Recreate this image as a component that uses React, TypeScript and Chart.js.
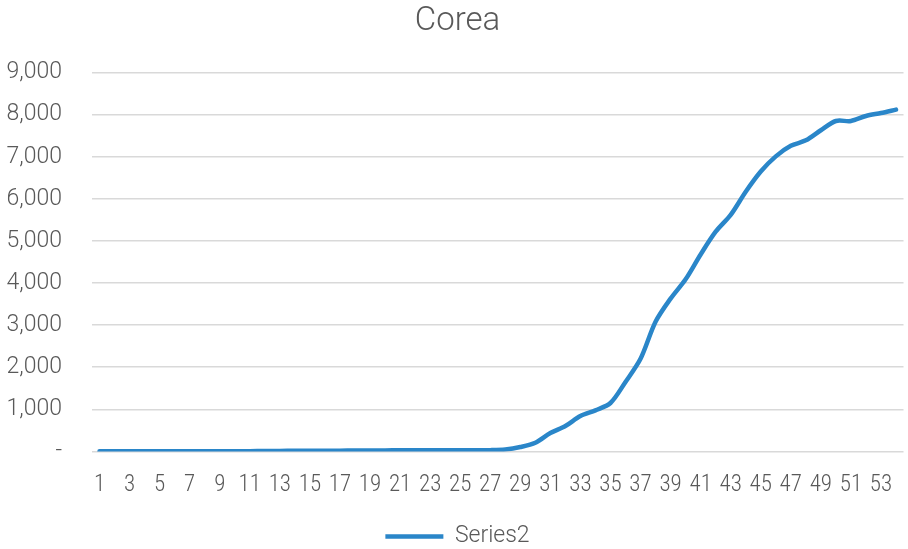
import React, { useEffect, useRef } from "react";
import { Chart, registerables } from "chart.js";

Chart.register(...registerables);

const title = "Corea";
const seriesName = "Series2";
const categories: string[] = Array.from({ length: 54 }, (_, i) => String(i + 1));
const values: number[] = [
  1, 1, 1, 2, 2, 2, 3, 4, 4, 4,
  6, 11, 12, 15, 15, 16, 18, 23, 24, 24,
  25, 27, 28, 28, 28, 28, 30, 46, 104, 204,
  436, 602, 840, 975, 1150, 1650, 2200, 3080, 3630, 4090,
  4680, 5220, 5620, 6170, 6650, 7010, 7260, 7390, 7630, 7850,
  7850, 7970, 8040, 8120,
];
const yMin = 0;
const yMax = 9000;
const yStep = 1000;

const FONT = "Roboto, 'Liberation Sans', sans-serif";
const NARROW = "'Roboto Condensed', 'Liberation Sans Narrow', Roboto, sans-serif";
const TEXT = "#595959";
const LINE = "#2a86c9";

export default function App() {
  const ref = useRef<HTMLCanvasElement>(null);
  useEffect(() => {
    if (!ref.current) return;
    const chart = new Chart(ref.current, {
      type: "line",
      data: {
        labels: categories,
        datasets: [
          {
            label: seriesName,
            data: values,
            borderColor: LINE,
            backgroundColor: LINE,
            borderWidth: 4.5,
            pointRadius: 0,
            tension: 0.3,
            borderCapStyle: "round",
            borderJoinStyle: "round",
          },
        ],
      },
      options: {
        animation: false,
        responsive: false,
        maintainAspectRatio: false,
        layout: { padding: { left: 3, right: -4, top: 2, bottom: -9 } },
        plugins: {
          title: {
            display: true,
            text: title,
            color: TEXT,
            font: { family: FONT, size: 33, weight: "300" },
            padding: { top: 0, bottom: 31 },
          },
          legend: {
            display: true,
            position: "bottom",
            labels: {
              color: TEXT,
              font: { family: FONT, size: 23, weight: "300" },
              usePointStyle: true,
              pointStyle: "line",
              pointStyleWidth: 58,
              padding: 14,
            },
          },
          tooltip: { enabled: false },
        },
        scales: {
          x: {
            offset: true,
            grid: { display: false },
            border: { display: false },
            ticks: {
              color: TEXT,
              font: { family: NARROW, size: 23, weight: "300" },
              autoSkip: false,
              maxRotation: 0,
              minRotation: 0,
              padding: 12,
              callback: (_v, i) => (i % 2 === 0 ? categories[i] : ""),
            },
          },
          y: {
            min: yMin,
            max: yMax,
            grid: { color: "#d9d9d9", lineWidth: 1.5, drawTicks: false },
            border: { display: false },
            afterFit: (scale) => {
              scale.width = 89;
            },
            ticks: {
              stepSize: yStep,
              color: TEXT,
              font: { family: FONT, size: 23, weight: "300" },
              padding: 30,
              callback: (v) => (Number(v) === 0 ? "-" : Number(v).toLocaleString("en-US")),
            },
          },
        },
      },
    });
    return () => chart.destroy();
  }, []);
  return (
    <div style={{ position: "fixed", left: 0, top: 0, width: 908, height: 549, background: "#fff" }}>
      <canvas ref={ref} width={908} height={549} />
    </div>
  );
}
